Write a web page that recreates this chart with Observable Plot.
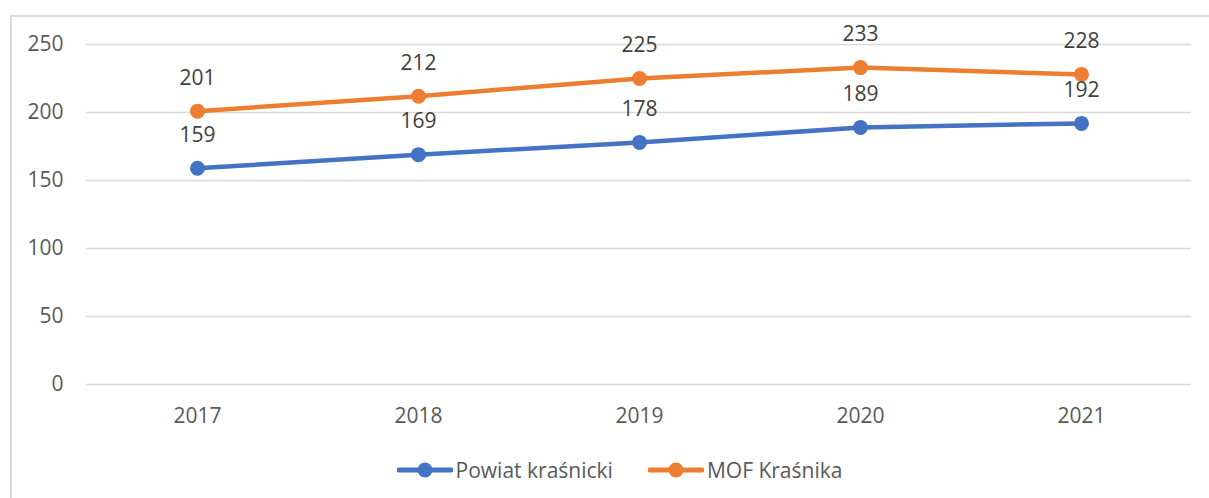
<!DOCTYPE html>
<html>
<head>
<meta charset="utf-8">
<script src="https://cdn.jsdelivr.net/npm/d3@7"></script>
<script src="https://cdn.jsdelivr.net/npm/@observablehq/plot@0.6"></script>
<style>
  html, body { margin: 0; padding: 0; background: #fff; }
  #wrap { position: relative; width: 1209px; height: 498px; overflow: hidden; font-family: "Open Sans", sans-serif; }
  #frame { position: absolute; left: 10px; top: 15px; width: 1300px; height: 600px; border: 2px solid #d9d9d9; box-sizing: border-box; }
  #chart { position: absolute; left: 0; top: 0; }
  #legend { position: absolute; left: 0; top: 442px; width: 1209px; height: 56px; display: flex; justify-content: center; align-items: center; gap: 35px; font-size: 21px; color: #595959; padding-left: 30px; box-sizing: border-box; }
  .item { display: flex; align-items: center; gap: 3px; }
</style>
</head>
<body>
<div id="wrap">
  <div id="frame"></div>
  <div id="chart"></div>
  <div id="legend"></div>
</div>
<script>
const years = ["2017", "2018", "2019", "2020", "2021"];
const seriesNames = ["Powiat kraśnicki", "MOF Kraśnika"];
const powiat = [159, 169, 178, 189, 192];
const mof = [201, 212, 225, 233, 228];
const yTicks = [0, 50, 100, 150, 200, 250];
const colors = ["#4472C4", "#ED7D31"];

const data = [];
years.forEach((y, i) => {
  data.push({year: y, series: seriesNames[0], value: powiat[i]});
  data.push({year: y, series: seriesNames[1], value: mof[i]});
});

const plot = Plot.plot({
  width: 1209,
  height: 440,
  marginLeft: 86,
  marginRight: 18,
  marginTop: 44,
  marginBottom: 56,
  style: {fontFamily: "'Open Sans', sans-serif", fontSize: "21px", color: "#595959", background: "transparent"},
  x: {type: "point", domain: years, padding: 0.5, label: null},
  y: {domain: [0, 250], label: null},
  color: {domain: seriesNames, range: colors},
  marks: [
    Plot.ruleY(yTicks, {stroke: "#d9d9d9", strokeWidth: 1.5, strokeOpacity: 1}),
    Plot.axisY({ticks: yTicks, tickSize: 0, tickPadding: 23, fill: "#595959", label: null}),
    Plot.axisX({tickSize: 0, tickPadding: 24, fill: "#595959", label: null}),
    Plot.line(data, {x: "year", y: "value", z: "series", stroke: "series", strokeWidth: 4.5, curve: "linear"}),
    Plot.dot(data, {x: "year", y: "value", fill: "series", r: 7.5}),
    Plot.text(data, {x: "year", y: "value", text: d => String(d.value), dy: -33, fill: "#404040", fontSize: 21})
  ]
});
document.getElementById("chart").appendChild(plot);

const legend = document.getElementById("legend");
seriesNames.forEach((name, i) => {
  const item = document.createElement("div");
  item.className = "item";
  item.innerHTML = `<svg width="56" height="18"><line x1="2" y1="9" x2="54" y2="9" stroke="${colors[i]}" stroke-width="5" stroke-linecap="round"/><circle cx="28" cy="9" r="7.5" fill="${colors[i]}"/></svg><span>${name}</span>`;
  legend.appendChild(item);
});
</script>
</body>
</html>
